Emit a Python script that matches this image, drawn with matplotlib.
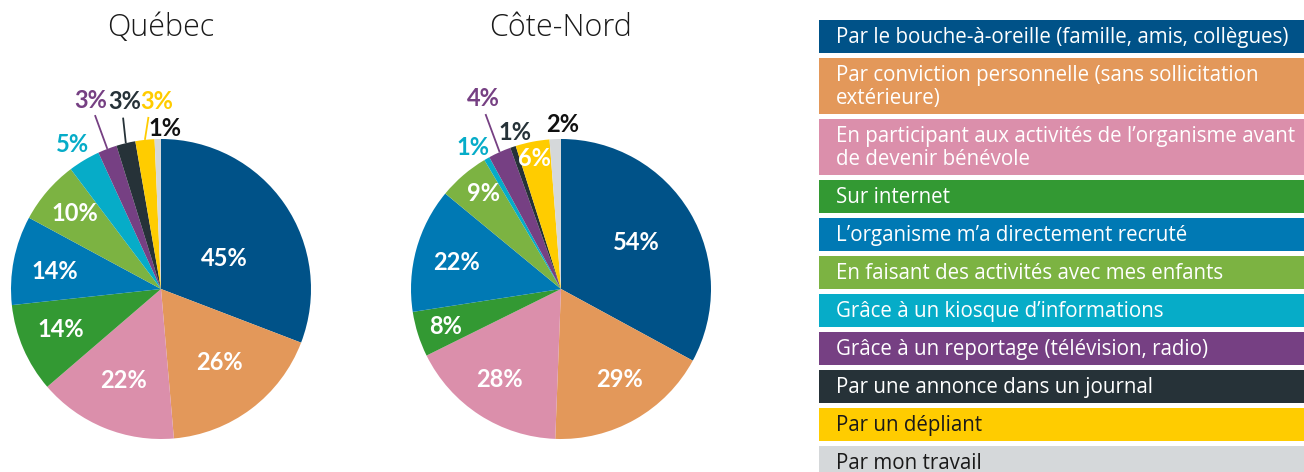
import numpy as np
import matplotlib
matplotlib.use("Agg")
import matplotlib.pyplot as plt
from matplotlib.patches import Rectangle

plt.rcParams['font.family'] = ['Lato', 'DejaVu Sans']

categories = [
    "Par le bouche-à-oreille (famille, amis, collègues)",
    "Par conviction personnelle (sans sollicitation\nextérieure)",
    "En participant aux activités de l’organisme avant\nde devenir bénévole",
    "Sur internet",
    "L’organisme m’a directement recruté",
    "En faisant des activités avec mes enfants",
    "Grâce à un kiosque d’informations",
    "Grâce à un reportage (télévision, radio)",
    "Par une annonce dans un journal",
    "Par un dépliant",
    "Par mon travail",
]
quebec = [45, 26, 22, 14, 14, 10, 5, 3, 3, 3, 1]
cote_nord = [54, 29, 28, 8, 22, 9, 1, 4, 1, 6, 2]
titles = ["Québec", "Côte-Nord"]

colors = ["#005288", "#E3985A", "#DB8FAB", "#339933", "#0079B4", "#7CB342",
          "#06ACC8", "#764083", "#263238", "#FFCC00", "#D5D8DA"]
legend_text_colors = ["white"] * 9 + ["#1a1a1a", "#1a1a1a"]

W, H = 1304, 472
fig = plt.figure(figsize=(W / 100, H / 100), dpi=100)

R = 150  # pie radius in px
S = 1.9  # half-size of axes in radius units

# label style per slice: (mode, r_text, dangle, color, line)
q_style = [
    ("in", 0.47, -8.5, None, False),
    ("in", 0.63, 1.5, None, False),
    ("in", 0.66, 0, None, False),
    ("in", 0.72, -1.5, None, False),
    ("in", 0.72, 2, None, False),
    ("in", 0.76, -0.6, None, False),
    ("out", 1.13, 0.8, None, False),
    ("out", 1.34, -0.4, None, True),
    ("out", 1.27, -2.7, None, True),
    ("out", 1.25, -5, None, True),
    ("out", 1.07, -2.5, "#111111", False),
]
c_style = [
    ("in", 0.59, 1, None, False),
    ("in", 0.72, 3.4, None, False),
    ("in", 0.73, -1, None, False),
    ("in", 0.81, 0.5, None, False),
    ("in", 0.72, 1, None, False),
    ("in", 0.82, -1.5, None, False),
    ("out", 1.11, 2.2, None, False),
    ("out", 1.37, -2, None, True),
    ("out", 1.09, -2.3, None, False),
    ("in", 0.89, 0.7, None, False),
    ("out", 1.10, -2.6, "#111111", False),
]

centers = [(161, 289), (561, 289)]
for vals, title, (cx, cy), styles in zip([quebec, cote_nord], titles, centers, [q_style, c_style]):
    s = S * R
    ax = fig.add_axes([(cx - s) / W, (H - cy - s) / H, 2 * s / W, 2 * s / H])
    wedges, _ = ax.pie(vals, colors=colors, startangle=90, counterclock=False,
                       radius=1.0, wedgeprops=dict(linewidth=0))
    ax.set_xlim(-S, S)
    ax.set_ylim(-S, S)
    ax.set_aspect('equal')
    ax.axis('off')
    ax.text(0, (cy - 28) / R, title, ha='center', va='center', fontsize=22,
            color="#1a1a1a", family=['Open Sans', 'DejaVu Sans'], fontweight='light')
    for w, v, col, (mode, rt, da, tc, line) in zip(wedges, vals, colors, styles):
        mid = 0.5 * (w.theta1 + w.theta2)
        a = np.deg2rad(mid + da)
        tx, ty = rt * np.cos(a), rt * np.sin(a)
        if mode == "in":
            ax.text(tx, ty, f"{v}%", ha='center', va='center', color='white',
                    fontsize=17, fontweight='bold')
        else:
            ax.text(tx, ty, f"{v}%", ha='center', va='center',
                    color=tc if tc else col, fontsize=17, fontweight='bold')
        if line:
            am = np.deg2rad(mid)
            al = np.deg2rad(mid + da * 0.4)
            r2 = rt - 0.10
            ax.plot([np.cos(am), r2 * np.cos(al)], [np.sin(am), r2 * np.sin(al)],
                    color=col, lw=1.3, solid_capstyle='butt')

# legend
lax = fig.add_axes([0, 0, 1, 1])
lax.set_xlim(0, W)
lax.set_ylim(H, 0)
lax.axis('off')
y = 20
for lab, col, tcol in zip(categories, colors, legend_text_colors):
    nl = lab.count("\n") + 1
    h = 33 + 23 * (nl - 1)
    lax.add_patch(Rectangle((819, y), 500, h, facecolor=col, edgecolor='none'))
    lax.text(836, y + h / 2 + 1, lab, ha='left', va='center', color=tcol,
             fontsize=14.8, linespacing=1.15, family=['Open Sans', 'DejaVu Sans'])
    y += h + 5

fig.savefig("out.png", dpi=100)
